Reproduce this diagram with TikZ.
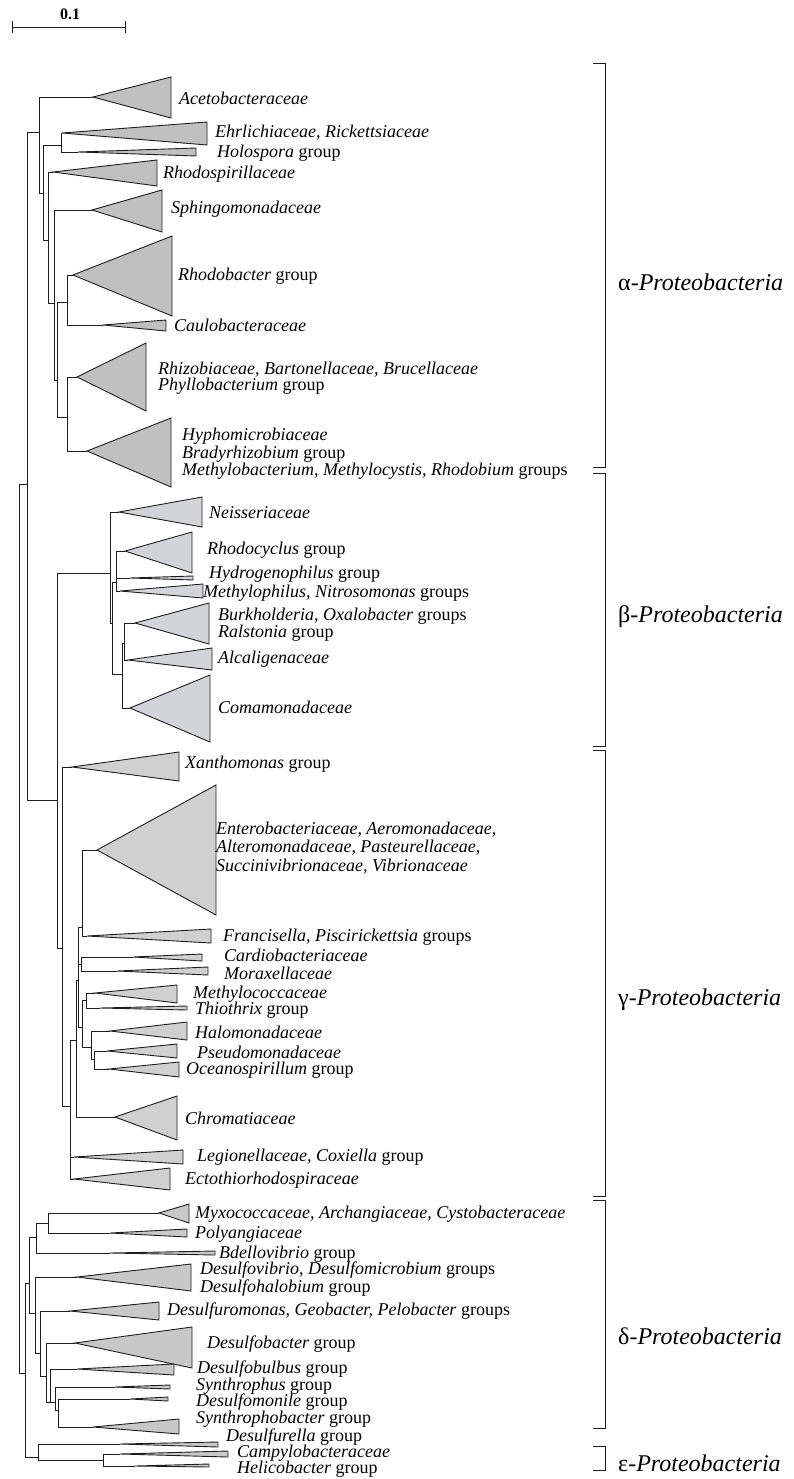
\documentclass[tikz,border=0pt]{standalone}
\usepackage{fontspec}
\setmainfont{Liberation Serif}
\usepackage{tikz}
\usepackage{xcolor}
\usetikzlibrary{positioning}
\definecolor{alphagray}{RGB}{192, 192, 192}
\definecolor{betagray}{RGB}{211, 212, 216}
\definecolor{gammagray}{RGB}{208, 208, 208}
\definecolor{deltagray}{RGB}{200, 200, 200}
\definecolor{treeline}{RGB}{30, 30, 30}
\tikzset{
    branch/.style={draw=treeline, line width=0.9pt},
    clade/.style={draw=treeline, line width=0.9pt, line join=miter},
    alphaclade/.style={clade, fill=alphagray},
    betaclade/.style={clade, fill=betagray},
    gammaclade/.style={clade, fill=gammagray},
    deltaclade/.style={clade, fill=deltagray},
    taxon/.style={anchor=west, inner sep=0pt, align=left, font=\fontsize{18}{16}\selectfont\itshape},
    phylum/.style={anchor=west, inner sep=0pt, font=\fontsize{24}{26}\selectfont},
    bracket/.style={draw=treeline, line width=0.9pt}
}

\begin{document}
\begin{tikzpicture}[x=1pt, y=-1pt]
    \useasboundingbox (0,0) rectangle (793,1479);

    % scale bar
    \coordinate (sbL) at (12,27);
    \coordinate (sbR) at (125,27);
    \draw[branch] (sbL) -- (sbR);
    \draw[branch] ([yshift=-6pt]sbL) -- ([yshift=6pt]sbL);
    \draw[branch] ([yshift=-6pt]sbR) -- ([yshift=6pt]sbR);
    \node[font=\fontsize{16}{18}\selectfont\bfseries, inner sep=0pt] (sbText) at (70,14) {0.1};

    % internal nodes
    \coordinate (root) at (19,484);
    \coordinate (abg) at (27,484);
    \coordinate (a0) at (39,132);
    \coordinate (a1) at (43,193);
    \coordinate (a2) at (61,145);
    \coordinate (a3) at (48,240);
    \coordinate (a4) at (54,303);
    \coordinate (a5) at (57,380);
    \coordinate (a6) at (67,302);
    \coordinate (a7) at (67,417);
    \coordinate (bg) at (57,800);
    \coordinate (b0) at (110,573);
    \coordinate (b1) at (112,623);
    \coordinate (b2) at (116,582);
    \coordinate (b3) at (122,674);
    \coordinate (b4) at (124,643);
    \coordinate (g0) at (62,948);
    \coordinate (g1) at (70,1106);
    \coordinate (g2) at (76,1040);
    \coordinate (g3) at (78,980);
    \coordinate (g4) at (82,927);
    \coordinate (g5) at (81,964);
    \coordinate (g6) at (82,1027);
    \coordinate (g7) at (86,1000);
    \coordinate (g8) at (91,1047);
    \coordinate (g9) at (94,1059);
    \coordinate (de) at (25,1373);
    \coordinate (d0) at (29,1283);
    \coordinate (d1) at (36,1237);
    \coordinate (d2) at (48,1223);
    \coordinate (d3) at (35,1313);
    \coordinate (d4) at (40,1353);
    \coordinate (d5) at (46,1376);
    \coordinate (d6) at (50,1402);
    \coordinate (d7) at (55,1402);
    \coordinate (d8) at (58,1410);
    \coordinate (e0) at (38,1457);
    \coordinate (e1) at (103,1460);

    % clade apices
    \coordinate (aceto) at (93,97);
    \coordinate (ehrl) at (62,133);
    \coordinate (holo) at (78,152);
    \coordinate (rhsp) at (53,172);
    \coordinate (sphi) at (92,210);
    \coordinate (rhob) at (73,275);
    \coordinate (caul) at (103,325);
    \coordinate (rhiz) at (77,377);
    \coordinate (hyph) at (87,451);
    \coordinate (neis) at (119,512);
    \coordinate (rhcy) at (125,551);
    \coordinate (hydr) at (130,578);
    \coordinate (mphi) at (120,591);
    \coordinate (burk) at (135,623);
    \coordinate (alca) at (128,660);
    \coordinate (coma) at (130,708);
    \coordinate (xant) at (72,767);
    \coordinate (ente) at (97,850);
    \coordinate (fran) at (87,936);
    \coordinate (card) at (133,957);
    \coordinate (mora) at (117,971);
    \coordinate (mcoc) at (95,993);
    \coordinate (thio) at (100,1008);
    \coordinate (halo) at (110,1031);
    \coordinate (pseu) at (107,1051);
    \coordinate (ocea) at (109,1069);
    \coordinate (chro) at (115,1117);
    \coordinate (legi) at (74,1157);
    \coordinate (ecto) at (74,1179);
    \coordinate (myxo) at (159,1213);
    \coordinate (poly) at (110,1233);
    \coordinate (bdel) at (110,1253);
    \coordinate (dvib) at (77,1277);
    \coordinate (drom) at (70,1311);
    \coordinate (dbac) at (75,1343);
    \coordinate (dbul) at (77,1369);
    \coordinate (syph) at (115,1387);
    \coordinate (dmnl) at (130,1399);
    \coordinate (syba) at (93,1427);
    \coordinate (dfla) at (120,1444);
    \coordinate (camp) at (120,1454);
    \coordinate (heli) at (135,1466);

    % branches
    \foreach \p/\c in {root/abg, root/de, abg/a0, abg/bg,
            a0/aceto, a0/a1, a1/a2, a1/a3, a2/ehrl, a2/holo, a3/rhsp, a3/a4,
            a4/sphi, a4/a5, a5/a6, a5/a7, a6/rhob, a6/caul, a7/rhiz, a7/hyph,
            bg/b0, bg/g0, b0/neis, b0/b1, b1/b2, b1/b3, b2/rhcy, b2/hydr, b2/mphi,
            b3/b4, b3/coma, b4/burk, b4/alca,
            g0/xant, g0/g1, g1/g2, g1/legi, g1/ecto, g2/g3, g2/chro,
            g3/g4, g3/g5, g3/g6, g4/ente, g4/fran, g5/card, g5/mora,
            g6/g7, g6/g8, g7/mcoc, g7/thio, g8/halo, g8/g9, g9/pseu, g9/ocea,
            de/d0, de/e0, d0/d1, d0/d3, d1/d2, d1/bdel, d2/myxo, d2/poly,
            d3/dvib, d3/d4, d4/drom, d4/d5, d5/dbac, d5/d6, d6/dbul, d6/d7,
            d7/syph, d7/d8, d8/dmnl, d8/syba, e0/dfla, e0/e1, e1/camp, e1/heli}
        \draw[branch] (\p) |- (\c);

    % collapsed clades
    \foreach \a/\x/\t/\b in {aceto/171/77/118, ehrl/207/122/145, holo/196/148/156,
            rhsp/157/160/186, sphi/162/190/232, rhob/172/236/316, caul/166/320/331,
            rhiz/146/343/411, hyph/171/418/487}
        \filldraw[alphaclade] (\a) -- (\x,\t) -- (\x,\b) -- cycle;
    \foreach \a/\x/\t/\b in {neis/202/497/527, rhcy/192/532/573, hydr/193/576/580,
            mphi/203/584/598, burk/209/603/644, alca/212/648/670, coma/210/675/742}
        \filldraw[betaclade] (\a) -- (\x,\t) -- (\x,\b) -- cycle;
    \foreach \a/\x/\t/\b in {xant/179/752/781, ente/216/785/915, fran/211/929/943,
            card/202/954/961, mora/208/967/975, mcoc/177/985/1003, thio/187/1006/1010,
            halo/187/1022/1040, pseu/177/1044/1058, ocea/179/1062/1077,
            chro/177/1096/1140, legi/183/1150/1164, ecto/170/1168/1190}
        \filldraw[gammaclade] (\a) -- (\x,\t) -- (\x,\b) -- cycle;
    \foreach \a/\x/\t/\b in {myxo/189/1204/1223, poly/187/1229/1237, bdel/215/1251/1255,
            dvib/191/1264/1291, drom/159/1302/1320, dbac/192/1327/1368,
            dbul/174/1364/1375, syph/170/1385/1389, dmnl/168/1397/1401,
            syba/179/1419/1434, dfla/218/1442/1447, camp/228/1451/1457,
            heli/209/1464/1467}
        \filldraw[deltaclade] (\a) -- (\x,\t) -- (\x,\b) -- cycle;

    % taxon labels
    \node[taxon] (tAceto) at (179,98) {Acetobacteraceae};
    \node[taxon] (tEhrl) at (215,133) {Ehrlichiaceae, Rickettsiaceae};
    \node[taxon] (tHolo) at (217,153) {Holospora \textup{group}};
    \node[taxon] (tRhsp) at (163,174) {Rhodospirillaceae};
    \node[taxon] (tSphi) at (171,209) {Sphingomonadaceae};
    \node[taxon] (tRhob) at (178,276) {Rhodobacter \textup{group}};
    \node[taxon] (tCaul) at (174,325) {Caulobacteraceae};
    \node[taxon] (tRhiz) at (158,378) {Rhizobiaceae, Bartonellaceae, Brucellaceae\\Phyllobacterium \textup{group}};
    \node[taxon] (tHyph) at (182,454) {Hyphomicrobiaceae\\Bradyrhizobium \textup{group}\\Methylobacterium, Methylocystis, Rhodobium \textup{groups}};
    \node[taxon] (tNeis) at (209,513) {Neisseriaceae};
    \node[taxon] (tRhcy) at (207,550) {Rhodocyclus \textup{group}};
    \node[taxon] (tHydr) at (209,574) {Hydrogenophilus \textup{group}};
    \node[taxon] (tMphi) at (203,593) {Methylophilus, Nitrosomonas \textup{groups}};
    \node[taxon] (tBurk) at (218,625) {Burkholderia, Oxalobacter \textup{groups}\\Ralstonia \textup{group}};
    \node[taxon] (tAlca) at (218,659) {Alcaligenaceae};
    \node[taxon] (tComa) at (218,707) {Comamonadaceae};
    \node[taxon] (tXant) at (185,764) {Xanthomonas \textup{group}};
    \node[taxon, font=\fontsize{18}{18.5}\selectfont\itshape] (tEnte) at (216,848) {Enterobacteriaceae, Aeromonadaceae,\\Alteromonadaceae, Pasteurellaceae,\\Succinivibrionaceae, Vibrionaceae};
    \node[taxon] (tFran) at (223,937) {Francisella, Piscirickettsia \textup{groups}};
    \node[taxon] (tCard) at (224,955) {Cardiobacteriaceae};
    \node[taxon] (tMora) at (224,973) {Moraxellaceae};
    \node[taxon] (tMcoc) at (193,994) {Methylococcaceae};
    \node[taxon] (tThio) at (195,1010) {Thiothrix \textup{group}};
    \node[taxon] (tHalo) at (195,1032) {Halomonadaceae};
    \node[taxon] (tPseu) at (197,1052) {Pseudomonadaceae};
    \node[taxon] (tOcea) at (186,1070) {Oceanospirillum \textup{group}};
    \node[taxon] (tChro) at (185,1118) {Chromatiaceae};
    \node[taxon] (tLegi) at (197,1157) {Legionellaceae, Coxiella \textup{group}};
    \node[taxon] (tEcto) at (185,1180) {Ectothiorhodospiraceae};
    \node[taxon] (tMyxo) at (195,1214) {Myxococcaceae, Archangiaceae, Cystobacteraceae};
    \node[taxon] (tPoly) at (195,1234) {Polyangiaceae};
    \node[taxon] (tBdel) at (219,1254) {Bdellovibrio \textup{group}};
    \node[taxon] (tDvib) at (200,1279) {Desulfovibrio, Desulfomicrobium \textup{groups}\\Desulfohalobium \textup{group}};
    \node[taxon] (tDrom) at (167,1311) {Desulfuromonas, Geobacter, Pelobacter \textup{groups}};
    \node[taxon] (tDbac) at (207,1344) {Desulfobacter \textup{group}};
    \node[taxon] (tDbul) at (197,1369) {Desulfobulbus \textup{group}};
    \node[taxon] (tSyph) at (196,1386) {Synthrophus \textup{group}};
    \node[taxon] (tDmnl) at (196,1402) {Desulfomonile \textup{group}};
    \node[taxon] (tSyba) at (196,1419) {Synthrophobacter \textup{group}};
    \node[taxon] (tDfla) at (226,1437) {Desulfurella \textup{group}};
    \node[taxon] (tCamp) at (237,1453) {Campylobacteraceae};
    \node[taxon] (tHeli) at (237,1469) {Helicobacter \textup{group}};

    % class brackets
    \foreach \n/\t/\b in {alpha/63/467, beta/473/746, gamma/750/1196, delta/1200/1428, epsilon/1446/1470}
        \draw[bracket] (593,\t) -- (605,\t) -- (605,\b) -- (593,\b);
    \node[phylum] (pAlpha) at (618,282) {α-\textit{Proteobacteria}};
    \node[phylum] (pBeta) at (618,617) {β-\textit{Proteobacteria}};
    \node[phylum] (pGamma) at (618,1000) {γ-\textit{Proteobacteria}};
    \node[phylum] (pDelta) at (618,1336) {δ-\textit{Proteobacteria}};
    \node[phylum] (pEpsilon) at (618,1463) {ε-\textit{Proteobacteria}};
\end{tikzpicture}
\end{document}
